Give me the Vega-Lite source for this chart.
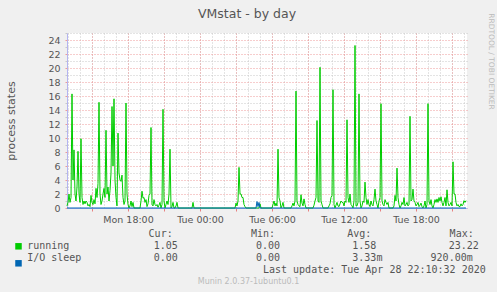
{
  "$schema": "https://vega.github.io/schema/vega-lite/v6.json",
  "width": 400,
  "height": 175,
  "autosize": {"type": "none"},
  "padding": {"left": 67, "top": 33, "right": 30, "bottom": 84},
  "background": "#F0F0F0",
  "view": {"fill": "#FFFFFF", "stroke": null},
  "config": {
    "font": "DejaVu Sans",
    "axis": {"labelFont": "DejaVu Sans", "labelFontSize": 9.5, "labelColor": "#555555", "titleFontWeight": "normal", "titleFont": "DejaVu Sans"}
  },
  "title": {"text": "VMstat - by day", "font": "DejaVu Sans", "fontSize": 12.5, "fontWeight": "normal", "color": "#555555", "anchor": "middle", "frame": "group", "dx": -20, "offset": -8},
  "data": {"values": [
    {"time":"2020-04-27T12:55Z","series":"running","value":0.3},
    {"time":"2020-04-27T13:00Z","series":"running","value":0.8},
    {"time":"2020-04-27T13:05Z","series":"running","value":2},
    {"time":"2020-04-27T13:10Z","series":"running","value":0.8},
    {"time":"2020-04-27T13:15Z","series":"running","value":1.5},
    {"time":"2020-04-27T13:20Z","series":"running","value":16.3},
    {"time":"2020-04-27T13:25Z","series":"running","value":4},
    {"time":"2020-04-27T13:30Z","series":"running","value":8.3},
    {"time":"2020-04-27T13:35Z","series":"running","value":2},
    {"time":"2020-04-27T13:40Z","series":"running","value":1},
    {"time":"2020-04-27T13:45Z","series":"running","value":3},
    {"time":"2020-04-27T13:50Z","series":"running","value":8.1},
    {"time":"2020-04-27T13:55Z","series":"running","value":2},
    {"time":"2020-04-27T14:00Z","series":"running","value":0.8},
    {"time":"2020-04-27T14:05Z","series":"running","value":9.9},
    {"time":"2020-04-27T14:10Z","series":"running","value":1.5},
    {"time":"2020-04-27T14:15Z","series":"running","value":0.5},
    {"time":"2020-04-27T14:20Z","series":"running","value":1},
    {"time":"2020-04-27T14:25Z","series":"running","value":0.6},
    {"time":"2020-04-27T14:30Z","series":"running","value":1},
    {"time":"2020-04-27T14:35Z","series":"running","value":0.8},
    {"time":"2020-04-27T14:40Z","series":"running","value":0.3},
    {"time":"2020-04-27T14:45Z","series":"running","value":0.5},
    {"time":"2020-04-27T14:50Z","series":"running","value":0.2},
    {"time":"2020-04-27T14:55Z","series":"running","value":1.8},
    {"time":"2020-04-27T15:00Z","series":"running","value":0.8},
    {"time":"2020-04-27T15:05Z","series":"running","value":0.5},
    {"time":"2020-04-27T15:10Z","series":"running","value":1.2},
    {"time":"2020-04-27T15:15Z","series":"running","value":0.6},
    {"time":"2020-04-27T15:20Z","series":"running","value":2.8},
    {"time":"2020-04-27T15:25Z","series":"running","value":1.5},
    {"time":"2020-04-27T15:30Z","series":"running","value":3.5},
    {"time":"2020-04-27T15:35Z","series":"running","value":15.1},
    {"time":"2020-04-27T15:40Z","series":"running","value":2},
    {"time":"2020-04-27T15:45Z","series":"running","value":0.5},
    {"time":"2020-04-27T15:50Z","series":"running","value":1},
    {"time":"2020-04-27T15:55Z","series":"running","value":2},
    {"time":"2020-04-27T16:00Z","series":"running","value":2.8},
    {"time":"2020-04-27T16:05Z","series":"running","value":1.5},
    {"time":"2020-04-27T16:10Z","series":"running","value":11.1},
    {"time":"2020-04-27T16:15Z","series":"running","value":2},
    {"time":"2020-04-27T16:20Z","series":"running","value":3},
    {"time":"2020-04-27T16:25Z","series":"running","value":1},
    {"time":"2020-04-27T16:30Z","series":"running","value":2.5},
    {"time":"2020-04-27T16:35Z","series":"running","value":5},
    {"time":"2020-04-27T16:40Z","series":"running","value":14.5},
    {"time":"2020-04-27T16:45Z","series":"running","value":6},
    {"time":"2020-04-27T16:50Z","series":"running","value":15.6},
    {"time":"2020-04-27T16:55Z","series":"running","value":4},
    {"time":"2020-04-27T17:00Z","series":"running","value":1.5},
    {"time":"2020-04-27T17:05Z","series":"running","value":0.3},
    {"time":"2020-04-27T17:10Z","series":"running","value":10.7},
    {"time":"2020-04-27T17:15Z","series":"running","value":5},
    {"time":"2020-04-27T17:20Z","series":"running","value":4},
    {"time":"2020-04-27T17:25Z","series":"running","value":3.8},
    {"time":"2020-04-27T17:30Z","series":"running","value":4.7},
    {"time":"2020-04-27T17:35Z","series":"running","value":1.5},
    {"time":"2020-04-27T17:40Z","series":"running","value":0.5},
    {"time":"2020-04-27T17:45Z","series":"running","value":1},
    {"time":"2020-04-27T17:50Z","series":"running","value":15},
    {"time":"2020-04-27T17:55Z","series":"running","value":2},
    {"time":"2020-04-27T18:00Z","series":"running","value":0.5},
    {"time":"2020-04-27T18:05Z","series":"running","value":0},
    {"time":"2020-04-27T18:10Z","series":"running","value":0.3},
    {"time":"2020-04-27T18:15Z","series":"running","value":1},
    {"time":"2020-04-27T18:20Z","series":"running","value":0.2},
    {"time":"2020-04-27T18:25Z","series":"running","value":0.8},
    {"time":"2020-04-27T18:30Z","series":"running","value":0},
    {"time":"2020-04-27T19:00Z","series":"running","value":0},
    {"time":"2020-04-27T19:05Z","series":"running","value":1},
    {"time":"2020-04-27T19:10Z","series":"running","value":2.4},
    {"time":"2020-04-27T19:15Z","series":"running","value":1.4},
    {"time":"2020-04-27T19:20Z","series":"running","value":1.5},
    {"time":"2020-04-27T19:25Z","series":"running","value":0.8},
    {"time":"2020-04-27T19:30Z","series":"running","value":1.2},
    {"time":"2020-04-27T19:35Z","series":"running","value":0.2},
    {"time":"2020-04-27T19:40Z","series":"running","value":0.6},
    {"time":"2020-04-27T19:45Z","series":"running","value":1.8},
    {"time":"2020-04-27T19:50Z","series":"running","value":2},
    {"time":"2020-04-27T19:55Z","series":"running","value":11.5},
    {"time":"2020-04-27T20:00Z","series":"running","value":0.5},
    {"time":"2020-04-27T20:05Z","series":"running","value":0.3},
    {"time":"2020-04-27T20:10Z","series":"running","value":1.2},
    {"time":"2020-04-27T20:15Z","series":"running","value":0.5},
    {"time":"2020-04-27T20:20Z","series":"running","value":0.3},
    {"time":"2020-04-27T20:25Z","series":"running","value":0.5},
    {"time":"2020-04-27T20:30Z","series":"running","value":0.1},
    {"time":"2020-04-27T20:35Z","series":"running","value":0.4},
    {"time":"2020-04-27T20:40Z","series":"running","value":0.8},
    {"time":"2020-04-27T20:45Z","series":"running","value":0},
    {"time":"2020-04-27T20:50Z","series":"running","value":0.5},
    {"time":"2020-04-27T20:55Z","series":"running","value":14.1},
    {"time":"2020-04-27T21:00Z","series":"running","value":1},
    {"time":"2020-04-27T21:05Z","series":"running","value":0},
    {"time":"2020-04-27T21:10Z","series":"running","value":0.5},
    {"time":"2020-04-27T21:15Z","series":"running","value":1},
    {"time":"2020-04-27T21:20Z","series":"running","value":0.5},
    {"time":"2020-04-27T21:25Z","series":"running","value":2},
    {"time":"2020-04-27T21:30Z","series":"running","value":8.4},
    {"time":"2020-04-27T21:35Z","series":"running","value":0},
    {"time":"2020-04-27T21:40Z","series":"running","value":0.2},
    {"time":"2020-04-27T21:45Z","series":"running","value":0.8},
    {"time":"2020-04-27T21:50Z","series":"running","value":0},
    {"time":"2020-04-27T21:55Z","series":"running","value":0},
    {"time":"2020-04-27T22:00Z","series":"running","value":0.3},
    {"time":"2020-04-27T22:05Z","series":"running","value":0.8},
    {"time":"2020-04-27T22:10Z","series":"running","value":0},
    {"time":"2020-04-27T23:20Z","series":"running","value":0},
    {"time":"2020-04-27T23:25Z","series":"running","value":0.8},
    {"time":"2020-04-27T23:30Z","series":"running","value":0},
    {"time":"2020-04-28T02:55Z","series":"running","value":0},
    {"time":"2020-04-28T03:00Z","series":"running","value":0.7},
    {"time":"2020-04-28T03:05Z","series":"running","value":0.3},
    {"time":"2020-04-28T03:10Z","series":"running","value":1},
    {"time":"2020-04-28T03:15Z","series":"running","value":5.8},
    {"time":"2020-04-28T03:20Z","series":"running","value":2},
    {"time":"2020-04-28T03:25Z","series":"running","value":2},
    {"time":"2020-04-28T03:30Z","series":"running","value":1.5},
    {"time":"2020-04-28T03:35Z","series":"running","value":1.5},
    {"time":"2020-04-28T03:40Z","series":"running","value":0.5},
    {"time":"2020-04-28T03:45Z","series":"running","value":0.2},
    {"time":"2020-04-28T03:50Z","series":"running","value":0},
    {"time":"2020-04-28T04:55Z","series":"running","value":0},
    {"time":"2020-04-28T05:00Z","series":"running","value":0.6},
    {"time":"2020-04-28T05:05Z","series":"running","value":0},
    {"time":"2020-04-28T06:00Z","series":"running","value":0},
    {"time":"2020-04-28T06:05Z","series":"running","value":0.5},
    {"time":"2020-04-28T06:10Z","series":"running","value":1},
    {"time":"2020-04-28T06:15Z","series":"running","value":0.3},
    {"time":"2020-04-28T06:20Z","series":"running","value":0.7},
    {"time":"2020-04-28T06:25Z","series":"running","value":0.3},
    {"time":"2020-04-28T06:30Z","series":"running","value":8.4},
    {"time":"2020-04-28T06:35Z","series":"running","value":1.5},
    {"time":"2020-04-28T06:40Z","series":"running","value":1},
    {"time":"2020-04-28T06:45Z","series":"running","value":0},
    {"time":"2020-04-28T06:50Z","series":"running","value":0.3},
    {"time":"2020-04-28T06:55Z","series":"running","value":0.8},
    {"time":"2020-04-28T07:00Z","series":"running","value":0},
    {"time":"2020-04-28T07:35Z","series":"running","value":0},
    {"time":"2020-04-28T07:40Z","series":"running","value":0.3},
    {"time":"2020-04-28T07:45Z","series":"running","value":0.7},
    {"time":"2020-04-28T07:50Z","series":"running","value":0.3},
    {"time":"2020-04-28T07:55Z","series":"running","value":1},
    {"time":"2020-04-28T08:00Z","series":"running","value":16.7},
    {"time":"2020-04-28T08:05Z","series":"running","value":1},
    {"time":"2020-04-28T08:10Z","series":"running","value":0.5},
    {"time":"2020-04-28T08:15Z","series":"running","value":0.3},
    {"time":"2020-04-28T08:20Z","series":"running","value":0.2},
    {"time":"2020-04-28T08:25Z","series":"running","value":1.9},
    {"time":"2020-04-28T08:30Z","series":"running","value":0.7},
    {"time":"2020-04-28T08:35Z","series":"running","value":0.3},
    {"time":"2020-04-28T08:40Z","series":"running","value":1.3},
    {"time":"2020-04-28T08:45Z","series":"running","value":0.5},
    {"time":"2020-04-28T08:50Z","series":"running","value":0},
    {"time":"2020-04-28T09:25Z","series":"running","value":0},
    {"time":"2020-04-28T09:30Z","series":"running","value":0.4},
    {"time":"2020-04-28T09:35Z","series":"running","value":1},
    {"time":"2020-04-28T09:40Z","series":"running","value":1.5},
    {"time":"2020-04-28T09:45Z","series":"running","value":12.5},
    {"time":"2020-04-28T09:50Z","series":"running","value":1},
    {"time":"2020-04-28T09:55Z","series":"running","value":0.8},
    {"time":"2020-04-28T10:00Z","series":"running","value":20.1},
    {"time":"2020-04-28T10:05Z","series":"running","value":1},
    {"time":"2020-04-28T10:10Z","series":"running","value":0.5},
    {"time":"2020-04-28T10:15Z","series":"running","value":0},
    {"time":"2020-04-28T10:40Z","series":"running","value":0},
    {"time":"2020-04-28T10:45Z","series":"running","value":0.3},
    {"time":"2020-04-28T10:50Z","series":"running","value":0.6},
    {"time":"2020-04-28T10:55Z","series":"running","value":1.5},
    {"time":"2020-04-28T11:00Z","series":"running","value":1.8},
    {"time":"2020-04-28T11:05Z","series":"running","value":16.9},
    {"time":"2020-04-28T11:10Z","series":"running","value":0.5},
    {"time":"2020-04-28T11:15Z","series":"running","value":0},
    {"time":"2020-04-28T11:20Z","series":"running","value":0.4},
    {"time":"2020-04-28T11:25Z","series":"running","value":0.8},
    {"time":"2020-04-28T11:30Z","series":"running","value":0.3},
    {"time":"2020-04-28T11:35Z","series":"running","value":0.2},
    {"time":"2020-04-28T11:40Z","series":"running","value":0.6},
    {"time":"2020-04-28T11:45Z","series":"running","value":1},
    {"time":"2020-04-28T11:50Z","series":"running","value":0.8},
    {"time":"2020-04-28T11:55Z","series":"running","value":0.8},
    {"time":"2020-04-28T12:00Z","series":"running","value":0.3},
    {"time":"2020-04-28T12:05Z","series":"running","value":1},
    {"time":"2020-04-28T12:10Z","series":"running","value":0.8},
    {"time":"2020-04-28T12:15Z","series":"running","value":12.6},
    {"time":"2020-04-28T12:20Z","series":"running","value":1.5},
    {"time":"2020-04-28T12:25Z","series":"running","value":0.8},
    {"time":"2020-04-28T12:30Z","series":"running","value":2},
    {"time":"2020-04-28T12:35Z","series":"running","value":0.5},
    {"time":"2020-04-28T12:40Z","series":"running","value":0.3},
    {"time":"2020-04-28T12:45Z","series":"running","value":0},
    {"time":"2020-04-28T12:50Z","series":"running","value":1},
    {"time":"2020-04-28T12:55Z","series":"running","value":23.22},
    {"time":"2020-04-28T13:00Z","series":"running","value":0.3},
    {"time":"2020-04-28T13:05Z","series":"running","value":0.3},
    {"time":"2020-04-28T13:10Z","series":"running","value":0.8},
    {"time":"2020-04-28T13:15Z","series":"running","value":16.3},
    {"time":"2020-04-28T13:20Z","series":"running","value":1},
    {"time":"2020-04-28T13:25Z","series":"running","value":0},
    {"time":"2020-04-28T13:30Z","series":"running","value":0.3},
    {"time":"2020-04-28T13:35Z","series":"running","value":1},
    {"time":"2020-04-28T13:40Z","series":"running","value":0.8},
    {"time":"2020-04-28T13:45Z","series":"running","value":3.7},
    {"time":"2020-04-28T13:50Z","series":"running","value":1.5},
    {"time":"2020-04-28T13:55Z","series":"running","value":0.5},
    {"time":"2020-04-28T14:00Z","series":"running","value":1.2},
    {"time":"2020-04-28T14:05Z","series":"running","value":0.5},
    {"time":"2020-04-28T14:10Z","series":"running","value":0.2},
    {"time":"2020-04-28T14:15Z","series":"running","value":1},
    {"time":"2020-04-28T14:20Z","series":"running","value":0.5},
    {"time":"2020-04-28T14:25Z","series":"running","value":0.3},
    {"time":"2020-04-28T14:30Z","series":"running","value":1.2},
    {"time":"2020-04-28T14:35Z","series":"running","value":2.7},
    {"time":"2020-04-28T14:40Z","series":"running","value":1},
    {"time":"2020-04-28T14:45Z","series":"running","value":0.5},
    {"time":"2020-04-28T14:50Z","series":"running","value":0},
    {"time":"2020-04-28T14:55Z","series":"running","value":1},
    {"time":"2020-04-28T15:00Z","series":"running","value":1.5},
    {"time":"2020-04-28T15:05Z","series":"running","value":14.9},
    {"time":"2020-04-28T15:10Z","series":"running","value":1},
    {"time":"2020-04-28T15:15Z","series":"running","value":0.5},
    {"time":"2020-04-28T15:20Z","series":"running","value":0.3},
    {"time":"2020-04-28T15:25Z","series":"running","value":1.2},
    {"time":"2020-04-28T15:30Z","series":"running","value":0.8},
    {"time":"2020-04-28T15:35Z","series":"running","value":0.5},
    {"time":"2020-04-28T15:40Z","series":"running","value":0.8},
    {"time":"2020-04-28T15:45Z","series":"running","value":0},
    {"time":"2020-04-28T16:05Z","series":"running","value":0},
    {"time":"2020-04-28T16:10Z","series":"running","value":0.3},
    {"time":"2020-04-28T16:15Z","series":"running","value":1.8},
    {"time":"2020-04-28T16:20Z","series":"running","value":1},
    {"time":"2020-04-28T16:25Z","series":"running","value":5.7},
    {"time":"2020-04-28T16:30Z","series":"running","value":1.5},
    {"time":"2020-04-28T16:35Z","series":"running","value":0.5},
    {"time":"2020-04-28T16:40Z","series":"running","value":0},
    {"time":"2020-04-28T16:45Z","series":"running","value":0.3},
    {"time":"2020-04-28T16:50Z","series":"running","value":0.8},
    {"time":"2020-04-28T16:55Z","series":"running","value":0.5},
    {"time":"2020-04-28T17:00Z","series":"running","value":1.5},
    {"time":"2020-04-28T17:05Z","series":"running","value":0.3},
    {"time":"2020-04-28T17:10Z","series":"running","value":0.5},
    {"time":"2020-04-28T17:15Z","series":"running","value":0.8},
    {"time":"2020-04-28T17:20Z","series":"running","value":0.3},
    {"time":"2020-04-28T17:25Z","series":"running","value":0.5},
    {"time":"2020-04-28T17:30Z","series":"running","value":13.1},
    {"time":"2020-04-28T17:35Z","series":"running","value":1},
    {"time":"2020-04-28T17:40Z","series":"running","value":1.2},
    {"time":"2020-04-28T17:45Z","series":"running","value":2.7},
    {"time":"2020-04-28T17:50Z","series":"running","value":1},
    {"time":"2020-04-28T17:55Z","series":"running","value":0.8},
    {"time":"2020-04-28T18:00Z","series":"running","value":0.3},
    {"time":"2020-04-28T18:05Z","series":"running","value":0.5},
    {"time":"2020-04-28T18:10Z","series":"running","value":0.8},
    {"time":"2020-04-28T18:15Z","series":"running","value":0.2},
    {"time":"2020-04-28T18:20Z","series":"running","value":0.4},
    {"time":"2020-04-28T18:25Z","series":"running","value":0.7},
    {"time":"2020-04-28T18:30Z","series":"running","value":0.2},
    {"time":"2020-04-28T18:35Z","series":"running","value":0},
    {"time":"2020-04-28T18:40Z","series":"running","value":0.3},
    {"time":"2020-04-28T18:45Z","series":"running","value":1},
    {"time":"2020-04-28T18:50Z","series":"running","value":0},
    {"time":"2020-04-28T18:55Z","series":"running","value":0.5},
    {"time":"2020-04-28T19:00Z","series":"running","value":14.9},
    {"time":"2020-04-28T19:05Z","series":"running","value":1},
    {"time":"2020-04-28T19:10Z","series":"running","value":0.5},
    {"time":"2020-04-28T19:15Z","series":"running","value":1.2},
    {"time":"2020-04-28T19:20Z","series":"running","value":0.3},
    {"time":"2020-04-28T19:25Z","series":"running","value":0},
    {"time":"2020-04-28T19:30Z","series":"running","value":0.5},
    {"time":"2020-04-28T19:35Z","series":"running","value":1.2},
    {"time":"2020-04-28T19:40Z","series":"running","value":0.8},
    {"time":"2020-04-28T19:45Z","series":"running","value":1.3},
    {"time":"2020-04-28T19:50Z","series":"running","value":0.8},
    {"time":"2020-04-28T19:55Z","series":"running","value":1.5},
    {"time":"2020-04-28T20:00Z","series":"running","value":1},
    {"time":"2020-04-28T20:05Z","series":"running","value":1.6},
    {"time":"2020-04-28T20:10Z","series":"running","value":0.8},
    {"time":"2020-04-28T20:15Z","series":"running","value":0.3},
    {"time":"2020-04-28T20:20Z","series":"running","value":0.8},
    {"time":"2020-04-28T20:25Z","series":"running","value":1.5},
    {"time":"2020-04-28T20:30Z","series":"running","value":0.3},
    {"time":"2020-04-28T20:35Z","series":"running","value":2.6},
    {"time":"2020-04-28T20:40Z","series":"running","value":0.8},
    {"time":"2020-04-28T20:45Z","series":"running","value":0.3},
    {"time":"2020-04-28T20:50Z","series":"running","value":0.5},
    {"time":"2020-04-28T20:55Z","series":"running","value":0.8},
    {"time":"2020-04-28T21:00Z","series":"running","value":0.3},
    {"time":"2020-04-28T21:05Z","series":"running","value":6.6},
    {"time":"2020-04-28T21:10Z","series":"running","value":2},
    {"time":"2020-04-28T21:15Z","series":"running","value":2},
    {"time":"2020-04-28T21:20Z","series":"running","value":0.8},
    {"time":"2020-04-28T21:25Z","series":"running","value":0.3},
    {"time":"2020-04-28T21:30Z","series":"running","value":0.5},
    {"time":"2020-04-28T21:35Z","series":"running","value":0.2},
    {"time":"2020-04-28T21:40Z","series":"running","value":0.2},
    {"time":"2020-04-28T21:45Z","series":"running","value":0.6},
    {"time":"2020-04-28T21:50Z","series":"running","value":0.3},
    {"time":"2020-04-28T21:55Z","series":"running","value":0.5},
    {"time":"2020-04-28T22:00Z","series":"running","value":1.05},
    {"time":"2020-04-28T22:05Z","series":"running","value":0.8},
    {"time":"2020-04-28T22:10Z","series":"running","value":1.05},
    {"time":"2020-04-27T12:55Z","series":"I/O sleep","value":0},
    {"time":"2020-04-28T04:40Z","series":"I/O sleep","value":0},
    {"time":"2020-04-28T04:45Z","series":"I/O sleep","value":0.92},
    {"time":"2020-04-28T04:50Z","series":"I/O sleep","value":0.2},
    {"time":"2020-04-28T04:55Z","series":"I/O sleep","value":0.8},
    {"time":"2020-04-28T05:00Z","series":"I/O sleep","value":0},
    {"time":"2020-04-28T22:10Z","series":"I/O sleep","value":0}
  ]},
  "layer": [
    {
      "mark": {"type": "line", "strokeOpacity": 0},
      "encoding": {
        "x": {"field": "time", "type": "temporal",
          "scale": {"type": "utc", "domain": [1587992100000, 1588112100000]},
          "axis": {"orient": "bottom", "values": [1587992400000, 1587996000000, 1587999600000, 1588003200000, 1588006800000, 1588010400000, 1588014000000, 1588017600000, 1588021200000, 1588024800000, 1588028400000, 1588032000000, 1588035600000, 1588039200000, 1588042800000, 1588046400000, 1588050000000, 1588053600000, 1588057200000, 1588060800000, 1588064400000, 1588068000000, 1588071600000, 1588075200000, 1588078800000, 1588082400000, 1588086000000, 1588089600000, 1588093200000, 1588096800000, 1588100400000, 1588104000000, 1588107600000, 1588111200000], "grid": true, "gridColor": "#C8C8C8", "gridDash": [1, 2], "gridWidth": 1, "labels": false, "ticks": false, "domain": false, "title": null}},
        "y": {"field": "value", "type": "quantitative", "scale": {"domain": [0, 25], "nice": false},
          "axis": {"orient": "left", "values": [1, 3, 5, 7, 9, 11, 13, 15, 17, 19, 21, 23, 25], "grid": true, "gridColor": "#C8C8C8", "gridDash": [1, 2], "labels": false, "ticks": true, "tickColor": "#C8C8C8", "tickSize": 2, "domain": false, "title": null}}
      }
    },
    {
      "mark": {"type": "line", "strokeOpacity": 0},
      "encoding": {
        "x": {"field": "time", "type": "temporal",
          "axis": {"orient": "bottom", "values": [1587999600000, 1588010400000, 1588021200000, 1588032000000, 1588042800000, 1588053600000, 1588064400000, 1588075200000, 1588086000000, 1588096800000, 1588107600000], "grid": true, "gridColor": "#EE9A9A", "gridDash": [1, 2], "gridWidth": 1, "labels": false, "ticks": true, "tickColor": "#E88080", "tickSize": 3, "domain": false, "title": null}},
        "y": {"field": "value", "type": "quantitative",
          "axis": {"orient": "left", "values": [0, 2, 4, 6, 8, 10, 12, 14, 16, 18, 20, 22, 24], "grid": true, "gridColor": "#EE9A9A", "gridDash": [1, 2], "labels": true, "labelPadding": 5, "ticks": true, "tickColor": "#EE9A9A", "tickSize": 2, "domain": true, "domainColor": "#B4B4F0", "domainWidth": 1,
            "title": "process states", "titleFontSize": 11, "titleColor": "#555555", "titleAngle": 270, "titleX": -56, "titleY": 87.5, "titleAlign": "center", "titleBaseline": "middle"}}
      }
    },
    {
      "mark": {"type": "line", "strokeWidth": 1, "interpolate": "linear"},
      "encoding": {
        "x": {"field": "time", "type": "temporal",
          "axis": {"orient": "bottom", "values": [1588010400000, 1588032000000, 1588053600000, 1588075200000, 1588096800000], "format": "%a %H:%M", "grid": false, "ticks": false, "labelPadding": 6, "labelFlush": false, "labelOverlap": false, "domain": true, "domainColor": "#B4B4F0",
            "title": [
              "\u2800\u00a0\u00a0\u00a0\u00a0\u00a0\u00a0\u00a0\u00a0\u00a0\u00a0\u00a0\u00a0\u00a0\u00a0\u00a0\u00a0\u00a0\u00a0\u00a0Cur:\u00a0\u00a0\u00a0\u00a0\u00a0\u00a0\u00a0\u00a0\u00a0\u00a0\u00a0\u00a0\u00a0Min:\u00a0\u00a0\u00a0\u00a0\u00a0\u00a0\u00a0\u00a0\u00a0\u00a0\u00a0\u00a0Avg:\u00a0\u00a0\u00a0\u00a0\u00a0\u00a0\u00a0\u00a0\u00a0\u00a0\u00a0\u00a0\u00a0Max:",
              "running\u00a0\u00a0\u00a0\u00a0\u00a0\u00a0\u00a0\u00a0\u00a0\u00a0\u00a0\u00a0\u00a0\u00a01.05\u00a0\u00a0\u00a0\u00a0\u00a0\u00a0\u00a0\u00a0\u00a0\u00a0\u00a0\u00a0\u00a00.00\u00a0\u00a0\u00a0\u00a0\u00a0\u00a0\u00a0\u00a0\u00a0\u00a0\u00a0\u00a01.58\u00a0\u00a0\u00a0\u00a0\u00a0\u00a0\u00a0\u00a0\u00a0\u00a0\u00a0\u00a023.22",
              "I/O\u00a0sleep\u00a0\u00a0\u00a0\u00a0\u00a0\u00a0\u00a0\u00a0\u00a0\u00a0\u00a0\u00a00.00\u00a0\u00a0\u00a0\u00a0\u00a0\u00a0\u00a0\u00a0\u00a0\u00a0\u00a0\u00a0\u00a00.00\u00a0\u00a0\u00a0\u00a0\u00a0\u00a0\u00a0\u00a0\u00a0\u00a0\u00a0\u00a03.33m\u00a0\u00a0\u00a0\u00a0\u00a0\u00a0\u00a0\u00a0920.00m",
              "\u2800\u00a0\u00a0\u00a0\u00a0\u00a0\u00a0\u00a0\u00a0\u00a0\u00a0\u00a0\u00a0\u00a0\u00a0\u00a0\u00a0\u00a0\u00a0\u00a0\u00a0\u00a0\u00a0\u00a0\u00a0\u00a0\u00a0\u00a0\u00a0\u00a0\u00a0\u00a0\u00a0\u00a0\u00a0\u00a0\u00a0\u00a0\u00a0Last\u00a0update:\u00a0Tue\u00a0Apr\u00a028\u00a022:10:32\u00a02020"
            ],
            "titleFont": "DejaVu Sans Mono", "titleFontSize": 10, "titleColor": "#555555", "titleX": -40.3, "titleY": 28.3, "titleAlign": "left", "titleAnchor": "start", "titleBaseline": "alphabetic", "titleLineHeight": 12.2}},
        "y": {"field": "value", "type": "quantitative",
          "axis": {"orient": "right", "labels": false, "ticks": false, "grid": false, "domain": false,
            "title": "RRDTOOL / TOBI OETIKER", "titleFontSize": 7.5, "titleColor": "#BBBBBB", "titleAngle": 90, "titleX": 23, "titleY": 28, "titleAlign": "center", "titleBaseline": "middle"}},
        "color": {"field": "series", "type": "nominal",
          "scale": {"domain": ["running", "I/O sleep"], "range": ["#00CC00", "#0066B3"]},
          "legend": {"orient": "none", "legendX": -53.5, "legendY": 208.3, "title": null, "symbolType": "square", "symbolSize": 1, "symbolStrokeWidth": 5.5, "labelExpr": "''", "labelFontSize": 10, "rowPadding": -11.3, "padding": 0, "offset": 0}}
      }
    },
    {
      "mark": {"type": "line", "strokeOpacity": 0},
      "encoding": {
        "x": {"field": "time", "type": "temporal",
          "axis": {"orient": "bottom", "labels": false, "ticks": false, "grid": false, "domain": false,
            "title": "Munin 2.0.37-1ubuntu0.1", "titleFontSize": 8, "titleColor": "#BBBBBB", "titleX": 181, "titleY": 73, "titleAlign": "center", "titleBaseline": "middle"}},
        "y": {"field": "value", "type": "quantitative", "axis": null}
      }
    }
  ],
  "resolve": {"axis": {"x": "independent", "y": "independent"}}
}
